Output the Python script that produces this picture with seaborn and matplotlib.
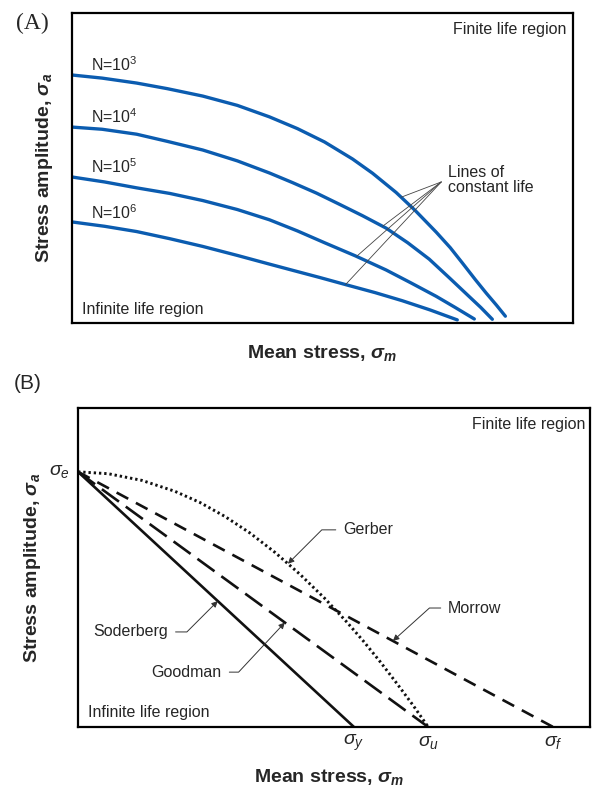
import numpy as np
import pandas as pd
import matplotlib
matplotlib.use("Agg")
import matplotlib.pyplot as plt
import seaborn as sns

# ---- Panel A: constant-life curves (mean stress vs stress amplitude, arbitrary units)
n_labels = ["N=10$^3$", "N=10$^4$", "N=10$^5$", "N=10$^6$"]
n3_x = [0, 6, 12.9, 19, 26.1, 33, 39.4, 45, 50.4, 56.0, 60, 64.7, 68.5, 72.7, 75.5,
        77.9, 80.5, 82.7, 84.7, 86.5]
n3_y = [80.0, 79.0, 77.4, 75.6, 73.2, 70.2, 66.5, 62.7, 58.4, 52.9, 48.3, 42.1, 36.3,
        29.3, 24.3, 19.4, 14.0, 9.6, 5.8, 2.2]
n4_x = [0, 6, 12.9, 19, 26.1, 33, 39.4, 44, 48.8, 53.5, 58, 62.7, 67, 71.3, 75.3, 79.3,
        81.6, 83.9]
n4_y = [63.2, 62.5, 60.9, 58.6, 55.8, 52.3, 48.4, 45.3, 41.9, 38.2, 34.6, 30.6, 25.9,
        20.6, 14.6, 8.5, 5.0, 1.2]
n5_x = [0, 6.5, 12.9, 19.5, 26.1, 33, 39.4, 45, 50.4, 56.5, 62.7, 67.7, 72.7, 76.5, 80.3]
n5_y = [47.1, 45.5, 43.6, 41.8, 39.5, 36.6, 33.3, 29.7, 25.9, 21.7, 17.1, 12.9, 8.6, 5.0, 1.3]
n6_x = [0, 6.5, 12.9, 19.5, 26.1, 33, 39.4, 44.5, 49.4, 54.8, 60.5, 65.9, 71.5, 76.9]
n6_y = [32.6, 31.2, 29.5, 27.2, 24.7, 21.8, 19.0, 16.8, 14.7, 12.3, 9.8, 7.2, 4.2, 1.0]
pointer_x = [65.7, 62.0, 56.8, 54.6]   # where the "lines of constant life" leaders touch

# ---- Panel B: mean stress correction criteria
sigma_e = 80.0
sigma_y = 53.9
sigma_u = 68.4
sigma_f = 92.8
gerber_x = [0, 5.9, 12.5, 18.9, 23.8, 28.7, 33.6, 38.5, 43.4, 48.2, 52.5, 55.7, 59.0,
            62.3, 65.4, 68.4]
gerber_y = [80.0, 79.4, 77.3, 73.9, 70.4, 66.0, 60.8, 54.7, 47.8, 40.3, 32.9, 27.0, 20.5,
            13.6, 6.9, 0.0]
soderberg_x = [0, sigma_y]
soderberg_y = [sigma_e, 0]
goodman_x = [0, sigma_u]
goodman_y = [sigma_e, 0]
morrow_x = [0, sigma_f]
morrow_y = [sigma_e, 0]

sns.set_theme(style="white")
plt.rcParams["font.family"] = ["Liberation Sans", "DejaVu Sans"]
plt.rcParams["mathtext.fontset"] = "custom"
plt.rcParams["mathtext.rm"] = "Liberation Sans"
plt.rcParams["mathtext.it"] = "Liberation Sans:italic"
plt.rcParams["mathtext.bf"] = "Liberation Sans:bold:italic"

W, H = 592, 789
fig = plt.figure(figsize=(W / 100, H / 100), dpi=100)


def px_axes(l, t, r, b):
    return fig.add_axes([l / W, 1 - b / H, (r - l) / W, (b - t) / H])


blue = "#0b5cb0"
txt = 11.5
lab = 14

# ================= Panel A =================
axA = px_axes(72, 13, 573, 323)
curves = pd.concat([
    pd.DataFrame({"x": n3_x, "y": n3_y, "N": n_labels[0]}),
    pd.DataFrame({"x": n4_x, "y": n4_y, "N": n_labels[1]}),
    pd.DataFrame({"x": n5_x, "y": n5_y, "N": n_labels[2]}),
    pd.DataFrame({"x": n6_x, "y": n6_y, "N": n_labels[3]}),
])
sns.lineplot(data=curves, x="x", y="y", hue="N", palette=[blue] * 4,
             lw=2.4, legend=False, sort=False, ax=axA, estimator=None)
for ln in axA.lines:
    ln.set_solid_joinstyle("round")
axA.set_xlim(0, 100)
axA.set_ylim(0, 100)

label_y = [83.2, 66.5, 50.3, 35.5]
for lbl, ly in zip(n_labels, label_y):
    axA.text(3.8, ly, lbl, fontsize=txt, ha="left", va="center")

apex = (73.7, 45.5)
for px_, cx, cy in zip(pointer_x, [n3_x, n4_x, n5_x, n6_x], [n3_y, n4_y, n5_y, n6_y]):
    axA.plot([apex[0], px_], [apex[1], np.interp(px_, cx, cy)], color="#444444", lw=0.6)
axA.text(75.1, 46.1, "Lines of\nconstant life", fontsize=txt, ha="left", va="center",
         linespacing=1.05)
axA.text(98.6, 94.8, "Finite life region", fontsize=txt, ha="right", va="center")
axA.text(2.0, 4.2, "Infinite life region", fontsize=txt, ha="left", va="center")

# ================= Panel B =================
axB = px_axes(78, 408, 590, 727)
ink = "#111111"
sns.lineplot(x=soderberg_x, y=soderberg_y, color=ink, lw=1.9, ax=axB)
sns.lineplot(x=goodman_x, y=goodman_y, color=ink, lw=1.9, linestyle=(0, (8, 3.2)), ax=axB)
sns.lineplot(x=morrow_x, y=morrow_y, color=ink, lw=1.9, linestyle=(0, (5, 3.3)), ax=axB)
sns.lineplot(x=gerber_x, y=gerber_y, color=ink, lw=2.1, linestyle=(0, (0.8, 1.0)),
             sort=False, estimator=None, ax=axB)
axB.set_xlim(0, 100)
axB.set_ylim(0, 100)

arrow_kw = dict(arrowstyle="-|>", color="#333333", lw=0.7, mutation_scale=9,
                shrinkA=3, shrinkB=0)


def leader(text, tip_x, line_x, line_y, tx, ty, ha, angle):
    tip = (tip_x, np.interp(tip_x, line_x, line_y))
    axB.annotate(text, xy=tip, xytext=(tx, ty), fontsize=txt, ha=ha, va="center",
                 arrowprops=dict(connectionstyle=f"angle,angleA=0,angleB={angle},rad=0",
                                 **arrow_kw))


leader("Gerber", 41.0, gerber_x, gerber_y, 51.8, 61.8, "left", 45)
leader("Morrow", 61.5, morrow_x, morrow_y, 72.3, 37.3, "left", 42)
leader("Soderberg", 27.3, soderberg_x, soderberg_y, 17.6, 29.8, "right", 45)
leader("Goodman", 40.4, goodman_x, goodman_y, 28.1, 17.2, "right", 47)

axB.text(99.0, 94.7, "Finite life region", fontsize=txt, ha="right", va="center")
axB.text(2.0, 4.4, "Infinite life region", fontsize=txt, ha="left", va="center")
axB.text(-1.6, sigma_e, r"$\sigma_e$", fontsize=lab, ha="right", va="center", clip_on=False)
for xv, s in [(sigma_y, r"$\sigma_y$"), (sigma_u, r"$\sigma_u$"), (sigma_f, r"$\sigma_f$")]:
    axB.text(xv, -5.0, s, fontsize=lab, ha="center", va="center", clip_on=False)

# ================= Shared styling =================
for ax in (axA, axB):
    ax.set_xticks([])
    ax.set_yticks([])
    for sp in ax.spines.values():
        sp.set_visible(True)
        sp.set_color("black")
        sp.set_linewidth(1.6)
    ax.set_xlabel(r"Mean stress, $\mathbf{\sigma_m}$", fontsize=lab, fontweight="bold")
    ax.set_ylabel(r"Stress amplitude, $\mathbf{\sigma_a}$", fontsize=lab, fontweight="bold")

axA.xaxis.set_label_coords(0.5, -0.065)
axA.yaxis.set_label_coords(-0.034, 0.5)
axB.xaxis.set_label_coords(0.49, -0.125)
axB.yaxis.set_label_coords(-0.068, 0.5)

fig.text(16 / W, 1 - 23 / H, "(A)", fontsize=17, family="Liberation Serif", ha="left", va="center")
fig.text(14 / W, 1 - 384 / H, "(B)", fontsize=15, ha="left", va="center")

fig.savefig("out.png", dpi=100)
